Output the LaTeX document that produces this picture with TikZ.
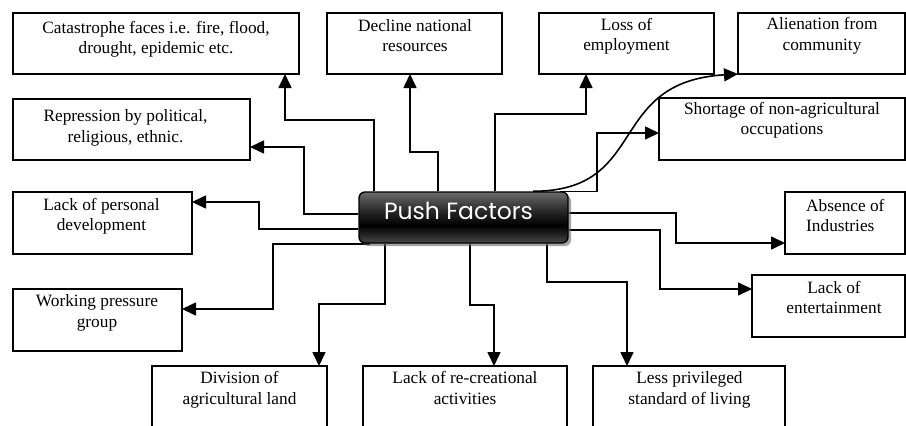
\documentclass[tikz,border=0pt]{standalone}
\usepackage{fontspec}
\setmainfont{Liberation Serif}
\newfontfamily\pffont{Poppins}
\usetikzlibrary{arrows.meta,shadows,backgrounds}

% glossy dark fill of the central node (path spans 25bp..75bp)
\pgfdeclareverticalshading{pfgloss}{100bp}{%
  color(0bp)=(black!72); color(25bp)=(black!72); color(42bp)=(black);
  color(56bp)=(black!85); color(75bp)=(black!58); color(100bp)=(black!58)}

\begin{document}
\begin{tikzpicture}[x=1pt,y=-1pt,
  cbox/.style={draw, line width=1.4pt, rectangle, inner sep=0pt, outer sep=0pt, anchor=north west},
  ctext/.style={anchor=north, align=center, inner sep=0pt, font=\fontsize{17.3}{20.5}\selectfont},
  link/.style={line width=1.6pt, -{Triangle[length=14pt,width=13pt]}},
]
\path[use as bounding box] (0,0) rectangle (906,426);
\clip (0,0) rectangle (906,426);

% factor boxes
\node[cbox, minimum width=286pt, minimum height=61pt] (cat)   at (13,13)  {};
\node[cbox, minimum width=175pt, minimum height=61pt] (dec)   at (327,13) {};
\node[cbox, minimum width=175pt, minimum height=61pt] (loss)  at (539,13) {};
\node[cbox, minimum width=167pt, minimum height=61pt] (alien) at (738,13) {};
\node[cbox, minimum width=237pt, minimum height=61pt] (rep)   at (13,99)  {};
\node[cbox, minimum width=246pt, minimum height=62pt] (short) at (659,98) {};
\node[cbox, minimum width=179pt, minimum height=62pt] (pers)  at (13,192) {};
\node[cbox, minimum width=169pt, minimum height=62pt] (work)  at (13,289) {};
\node[cbox, minimum width=120pt, minimum height=62pt] (abs)   at (785,192) {};
\node[cbox, minimum width=153pt, minimum height=62pt] (ent)   at (752,275) {};
\node[cbox, minimum width=175pt, minimum height=80pt] (div)   at (152,366) {};
\node[cbox, minimum width=204pt, minimum height=80pt] (rec)   at (363,366) {};
\node[cbox, minimum width=192pt, minimum height=80pt] (less)  at (593,366) {};

% box texts
\node[ctext] (catT)   at (156,21)    {Catastrophe faces i.e. fire, flood,\\drought, epidemic etc.};
\node[ctext] (decT)   at (415,19)    {Decline national\\resources};
\node[ctext] (lossT)  at (626.5,18)  {Loss of\\employment};
\node[ctext] (alienT) at (822,17.5)  {Alienation from\\community};
\node[ctext] (repT)   at (125.5,109.5) {Repression by political,\\religious, ethnic.};
\node[ctext] (shortT) at (782,102)   {Shortage of non-agricultural\\occupations};
\node[ctext] (persT)  at (101.5,198) {Lack of personal\\development};
\node[ctext] (workT)  at (97,294.5)  {Working pressure\\group};
\node[ctext, anchor=north west, align=left] (absT) at (806,198.7) {Absence of\\Industries};
\node[ctext] (entT)   at (834,280.7) {Lack of\\entertainment};
\node[ctext] (divT)   at (239.5,371.3) {Division of\\agricultural land};
\node[ctext] (recT)   at (465,371.3) {Lack of re-creational\\activities};
\node[ctext] (lessT)  at (689.5,371.3) {Less privileged\\standard of living};

% central node
\node[draw=black, line width=1.4pt, rounded corners=6pt, shading=pfgloss,
      minimum width=209pt, minimum height=51pt, inner sep=0pt,
      drop shadow={shadow xshift=3pt, shadow yshift=-3pt, fill=black!60, opacity=0.6}]
      (pf) at (463.5,217.5) {};
\node[text=white, font=\pffont\fontsize{23.5}{28}\selectfont, anchor=base, inner sep=0pt]
      (pflabel) at (458.5,219.5) {Push Factors};

% connectors
\begin{scope}[on background layer]
\draw[link] (374,0 |- pf.north) |- (285,120) -- (285,0 |- cat.south);
\draw[link] (438,0 |- pf.north) |- (410,152) -- (410,0 |- dec.south);
\draw[link] (495,0 |- pf.north) |- (586,114) -- (586,0 |- loss.south);
\draw[link] (533,0 |- pf.north) .. controls (650,191) and (605,82) .. (alien.south west);
\draw[link] (560,0 |- pf.north) -| (597,133) -- (short.west |- 0,133);
\draw[link] (pf.west |- 0,214) -| (304,147) -- (rep.east |- 0,147);
\draw[link] (pf.west |- 0,229) -| (259,202) -- (pers.east |- 0,202);
\draw[link] (370,0 |- pf.south) -| (273,309) -- (work.east |- 0,309);
\draw[link] (385,0 |- pf.south) |- (319,304) -- (319,0 |- div.north);
\draw[link] (470,0 |- pf.south) |- (494,305) -- (494,0 |- rec.north);
\draw[link] (547,0 |- pf.south) |- (627,282) -- (627,0 |- less.north);
\draw[link] (pf.east |- 0,213) -| (676,243) -- (abs.west |- 0,243);
\draw[link] (pf.east |- 0,230) -| (660,289) -- (ent.west |- 0,289);
\end{scope}
\end{tikzpicture}
\end{document}
